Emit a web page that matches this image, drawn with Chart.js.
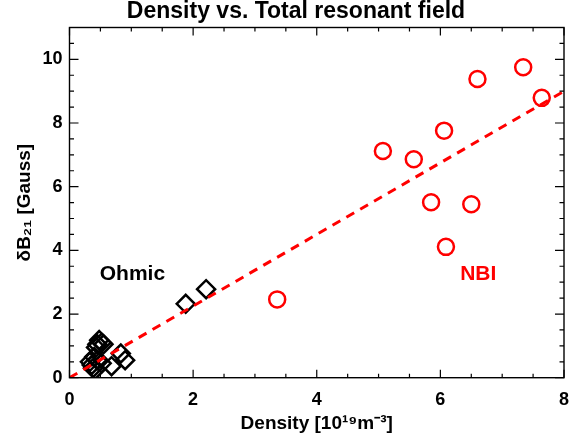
<!DOCTYPE html>
<html>
<head>
<meta charset="utf-8">
<script src="https://cdn.jsdelivr.net/npm/chart.js@4.4.1/dist/chart.umd.min.js"></script>
<style>
html,body{margin:0;padding:0;background:#fff;}
#wrap{width:569px;height:435px;}
</style>
</head>
<body>
<div id="wrap"><canvas id="c" width="569" height="435"></canvas></div>
<script>
// ---- data ----
const ohmicX = [0.33,0.38,0.42,0.36,0.45,0.40,0.45,0.52,0.48,0.55,0.43,0.52,0.68,0.83,0.90,1.88,2.21];
const ohmicY = [0.50,0.30,0.25,0.40,1.05,0.65,0.55,1.10,1.18,1.05,0.95,0.45,0.36,0.76,0.55,2.32,2.78];
const nbiX = [5.07,5.57,6.06,6.60,7.34,7.64,5.85,6.50,6.09,3.36];
const nbiY = [7.12,6.86,7.76,9.38,9.75,8.79,5.51,5.45,4.11,2.46];
const fitX = [0,8];
const fitY = [0,9.0];
const xTicks = [0,2,4,6,8];
const yTicks = [0,2,4,6,8,10];
const labelText = ['Ohmic','NBI'];
const labelX = [0.49,6.32];
const labelY = [3.26,3.26];
const labelColor = ['#000000','#ff0000'];

const FONT = "'Liberation Sans', Arial, Helvetica, sans-serif";

const toPts = (xs, ys) => xs.map((x,i)=>({x:x, y:ys[i]}));

const framePlugin = {
  id:'frame',
  afterDatasetsDraw(chart){
    const {ctx, chartArea:a, scales:{x, y}} = chart;
    ctx.save();
    ctx.strokeStyle = '#000';
    ctx.lineWidth = 1.4;
    ctx.strokeRect(a.left, a.top, a.right-a.left, a.bottom-a.top);
    ctx.lineWidth = 1.2;
    for (let v=0; v<=8.0001; v+=0.5){
      const px = x.getPixelForValue(v);
      const L = (Math.abs(v/2-Math.round(v/2))<1e-6) ? 8 : 4;
      ctx.beginPath();
      ctx.moveTo(px, a.bottom); ctx.lineTo(px, a.bottom-L);
      ctx.moveTo(px, a.top); ctx.lineTo(px, a.top+L);
      ctx.stroke();
    }
    for (let v=0; v<=11.0001; v+=0.5){
      const py = y.getPixelForValue(v);
      const L = (Math.abs(v/2-Math.round(v/2))<1e-6) ? 9 : 4.5;
      ctx.beginPath();
      ctx.moveTo(a.left, py); ctx.lineTo(a.left+L, py);
      ctx.moveTo(a.right, py); ctx.lineTo(a.right-L, py);
      ctx.stroke();
    }
    ctx.font = 'bold 21px ' + FONT;
    ctx.textAlign = 'left';
    ctx.textBaseline = 'middle';
    labelText.forEach((t,i)=>{
      ctx.fillStyle = labelColor[i];
      ctx.fillText(t, x.getPixelForValue(labelX[i]), y.getPixelForValue(labelY[i]));
    });
    ctx.restore();
  }
};

new Chart(document.getElementById('c'), {
  type:'scatter',
  data:{
    datasets:[
      {
        type:'line', label:'fit', data: toPts(fitX, fitY),
        borderColor:'#ff0000', borderWidth:3, borderDash:[9,7],
        pointRadius:0, fill:false, order:0, tension:0
      },
      {
        label:'Ohmic', data: toPts(ohmicX, ohmicY),
        pointStyle:'rectRot', pointRadius:9, pointHoverRadius:9,
        borderColor:'#000000', backgroundColor:'rgba(0,0,0,0)', borderWidth:2.5, order:2
      },
      {
        label:'NBI', data: toPts(nbiX, nbiY),
        pointStyle:'circle', pointRadius:8, pointHoverRadius:8,
        borderColor:'#ff0000', backgroundColor:'rgba(0,0,0,0)', borderWidth:2.5, order:1
      }
    ]
  },
  options:{
    responsive:false,
    animation:false,
    events:[],
    layout:{autoPadding:false, padding:{left:28,right:5,top:0,bottom:0}},
    plugins:{
      legend:{display:false},
      tooltip:{enabled:false},
      title:{
        display:true,
        text:'Density vs. Total resonant field',
        color:'#000',
        font:{family:FONT, size:23, weight:'bold', lineHeight:1.0},
        padding:{top:0, bottom:4.5}
      }
    },
    scales:{
      x:{
        type:'linear', min:0, max:8,
        grid:{display:false, drawTicks:true, tickLength:12},
        border:{display:false},
        ticks:{color:'#000', font:{family:FONT, size:18, weight:'bold'}, padding:0, maxRotation:0},
        afterBuildTicks(s){ s.ticks = xTicks.map(v=>({value:v})); },
        afterFit(s){ s.height = 57.3; s.paddingLeft = 0; s.paddingRight = 0; },
        title:{display:true, text:'Density [10¹⁹m⁻³]', color:'#000',
          font:{family:FONT, size:19, weight:'bold', lineHeight:1.2}, padding:{top:0,bottom:0}}
      },
      y:{
        type:'linear', min:0, max:11,
        grid:{display:false, drawTicks:false},
        border:{display:false},
        ticks:{color:'#000', font:{family:FONT, size:18, weight:'bold'}, padding:7},
        afterBuildTicks(s){ s.ticks = yTicks.map(v=>({value:v})); },
        afterFit(s){ s.width = 41.5; s.paddingTop = 0; s.paddingBottom = 0; },
        title:{display:true, text:'δB₂₁ [Gauss]', color:'#000',
          font:{family:FONT, size:19, weight:'bold', lineHeight:1.2}, padding:{top:-14.4,bottom:0}}
      }
    }
  },
  plugins:[framePlugin]
});
</script>
</body>
</html>
